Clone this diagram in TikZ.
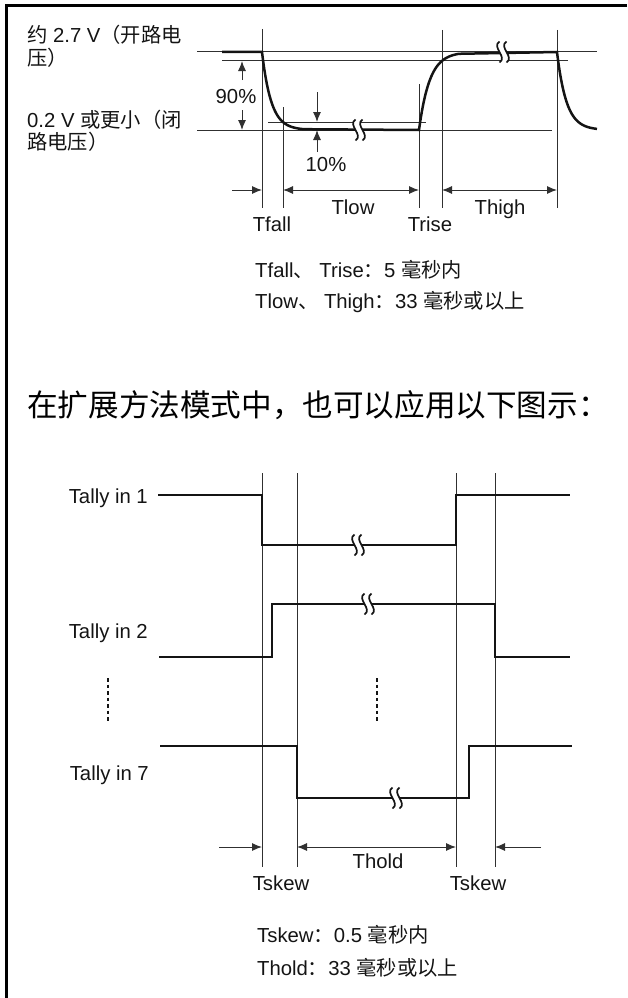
\documentclass[tikz,border=0pt]{standalone}
\usepackage{fontspec}
\setmainfont{Liberation Sans}
\newfontfamily\cjk{Noto Sans CJK SC}
\usetikzlibrary{arrows.meta}
\definecolor{ink}{HTML}{141414}
\definecolor{thinc}{HTML}{303030}
\tikzset{
  lbl/.style={font=\fontsize{20.3}{24}\selectfont, inner sep=0pt, text=ink},
  head/.style={font=\fontsize{30.6}{36}\selectfont, inner sep=0pt, text=black},
  thinln/.style={draw=thinc, line width=1pt},
  sig/.style={draw=ink, line width=2.5pt, line join=miter},
  frm/.style={draw=black, line width=2.6pt},
  tip/.style={Latex[length=10pt,width=8pt]},
  arr/.style={thinln, -{Latex[length=10pt,width=8pt]}},
  darr/.style={thinln, {Latex[length=10pt,width=8pt]}-{Latex[length=10pt,width=8pt]}},
  dots/.style={draw=ink, line width=1.8pt, dash pattern=on 3.5pt off 3pt},
  brk/.pic={
    \fill[white] (-3.5,-10.5) .. controls (-12,-5) and (5,5) .. (-3.5,10.5) -- (3.5,10.5) .. controls (12,5) and (-5,-5) .. (3.5,-10.5) -- cycle;
    \draw[ink, line width=1.7pt] (-3.5,-10.5) .. controls (-12,-5) and (5,5) .. (-3.5,10.5);
    \draw[ink, line width=1.7pt] (3.5,-10.5) .. controls (-5,-5) and (12,5) .. (3.5,10.5);
  }
}
\begin{document}
\begin{tikzpicture}[x=1pt,y=-1pt]
\useasboundingbox (0,0) rectangle (627,998);
% frame
\draw[frm] (627,5.3) -- (6.7,5.3) -- (6.7,998);

% ---------- top diagram ----------
\node[lbl, anchor=base west] (v27a) at (27,43) {{\cjk 约} 2.7 V{\cjk （开路电}};
\node[lbl, anchor=base west] (v27b) at (27,66) {{\cjk 压）}};
\node[lbl, anchor=base west] (v02a) at (27,127) {0.2 V {\cjk 或更小（闭}};
\node[lbl, anchor=base west] (v02b) at (27,149) {{\cjk 路电压）}};

% horizontal reference lines
\draw[thinln] (197,52) -- (597,52);
\draw[thinln] (222,61) -- (568,61);
\draw[thinln] (268,122) -- (426,122);
\draw[thinln] (197,130) -- (552,130);
% vertical reference lines
\draw[thinln] (262,29) -- (262,208);
\draw[thinln] (283,107) -- (283,208);
\draw[thinln] (419,84) -- (419,208);
\draw[thinln] (442,30) -- (442,208);
\draw[thinln] (557,30) -- (557,208);

% signal
\draw[sig] (222,52) -- (262,52)
  -- plot[domain=0:42,samples=60] ({262+\x},{130-78*exp(-\x/9.2)})
  -- (419,130)
  -- plot[domain=0:40,samples=60] ({419+\x},{52+78*exp(-\x/10.6)})
  -- (557,52)
  -- plot[domain=0:40,samples=60] ({557+\x},{130-78*exp(-\x/9.4)});
\pic at (359,130) {brk};
\pic at (503,52) {brk};

% 90% / 10%
\coordinate (n90a) at (242,80);
\coordinate (n90b) at (242,110);
\draw[arr] (n90a) -- (242,61);
\draw[arr] (n90b) -- (242,130);
\node[lbl, anchor=base] (p90) at (236,103) {90\%};
\coordinate (n10a) at (317,92);
\coordinate (n10b) at (317,152);
\draw[arr] (n10a) -- (317,122);
\draw[arr] (n10b) -- (317,130);
\node[lbl, anchor=base] (p10) at (326,171) {10\%};

% time arrows
\coordinate (tfa) at (232,190);
\draw[arr] (tfa) -- (262,190);
\draw[darr] (283,190) -- (419,190);
\draw[darr] (442,190) -- (557,190);
\node[lbl, anchor=base] (tfall) at (272,231) {Tfall};
\node[lbl, anchor=base] (tlow) at (353,214) {Tlow};
\node[lbl, anchor=base] (trise) at (430,231) {Trise};
\node[lbl, anchor=base] (thigh) at (500,214) {Thigh};

\node[lbl, anchor=base west] (ex1) at (255,277) {Tfall{\cjk 、} Trise{\cjk ：}5 {\cjk 毫秒内}};
\node[lbl, anchor=base west] (ex2) at (255,308) {Tlow{\cjk 、} Thigh{\cjk ：}33 {\cjk 毫秒或以上}};

% heading
\node[head, anchor=base west] (hd) at (27,416) {\cjk 在扩展方法模式中，也可以应用以下图示：};

% ---------- bottom diagram ----------
\draw[thinln] (262,473) -- (262,867);
\draw[thinln] (297,473) -- (297,867);
\draw[thinln] (456,473) -- (456,867);
\draw[thinln] (495,473) -- (495,867);

\node[lbl, anchor=base east] (t1) at (148,503) {Tally in 1};
\node[lbl, anchor=base east] (t2) at (148,638) {Tally in 2};
\node[lbl, anchor=base east] (t7) at (149,780) {Tally in 7};

\draw[sig] (158,495) -- (262,495) -- (262,545) -- (456,545) -- (456,495) -- (570,495);
\draw[sig] (159,657) -- (272,657) -- (272,604) -- (495,604) -- (495,657) -- (570,657);
\draw[sig] (160,746) -- (297,746) -- (297,798) -- (469,798) -- (469,746) -- (572,746);
\pic at (358,545) {brk};
\pic at (368,604) {brk};
\pic at (396,798) {brk};

\draw[dots] (108,678) -- (108,722);
\draw[dots] (377,678) -- (377,722);

\coordinate (sk1) at (219,847);
\coordinate (sk2) at (541,847);
\draw[arr] (sk1) -- (262,847);
\draw[darr] (297,847) -- (456,847);
\draw[arr] (sk2) -- (495,847);
\node[lbl, anchor=base] (thold) at (378,868) {Thold};
\node[lbl, anchor=base] (tsk1) at (281,890) {Tskew};
\node[lbl, anchor=base] (tsk2) at (478,890) {Tskew};

\node[lbl, anchor=base west] (ex3) at (257,942) {Tskew{\cjk ：}0.5 {\cjk 毫秒内}};
\node[lbl, anchor=base west] (ex4) at (257,975) {Thold{\cjk ：}33 {\cjk 毫秒或以上}};
\end{tikzpicture}
\end{document}
